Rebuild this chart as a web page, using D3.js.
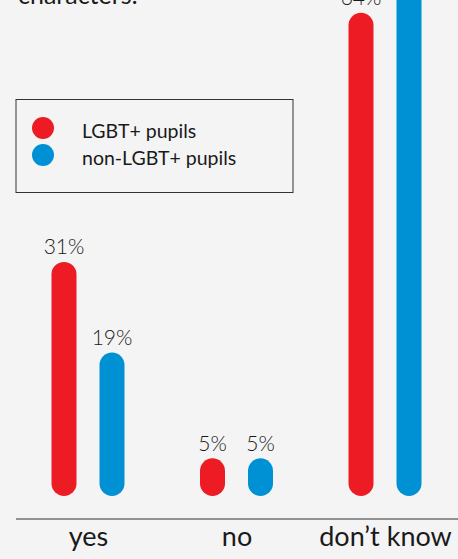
<!DOCTYPE html>
<html>
<head>
<meta charset="utf-8">
<script src="https://cdn.jsdelivr.net/npm/d3@7"></script>
<style>
  html, body { margin: 0; padding: 0; background: #f4f4f4; overflow: hidden; }
  svg { display: block; font-family: Lato, "Open Sans", sans-serif; }
</style>
</head>
<body>
<div id="chart"></div>
<script>
// ---- data ----
const categories = ["yes", "no", "don\u2019t know"];
const seriesNames = ["LGBT+ pupils", "non-LGBT+ pupils"];
const lgbtValues = [31, 5, 64];
const nonLgbtValues = [19, 5, 76];
const seriesColors = ["#ed1c24", "#0090d4"];
const titleText = "characters:";

const W = 458, H = 559;
const svg = d3.select("#chart").append("svg").attr("width", W).attr("height", H);
svg.append("rect").attr("width", W).attr("height", H).attr("fill", "#f4f4f4");

const baseY = 496;
const y = d3.scaleLinear().domain([0, 100]).range([baseY, baseY - 755]);
const x0 = d3.scalePoint().domain(categories).range([88, 385]);
const x1 = d3.scalePoint().domain(seriesNames).range([-24, 24]);
const color = d3.scaleOrdinal().domain(seriesNames).range(seriesColors);
const barW = 25;

const rows = categories.map((c, i) => ({
  cat: c,
  vals: [
    { s: seriesNames[0], v: lgbtValues[i] },
    { s: seriesNames[1], v: nonLgbtValues[i] }
  ]
}));

// title (cropped at top)
svg.append("text").attr("x", 18).attr("y", 4)
  .attr("font-size", 25).attr("fill", "#1a1a1a").text(titleText);

const g = svg.selectAll("g.cat").data(rows).enter().append("g")
  .attr("class", "cat")
  .attr("transform", d => `translate(${x0(d.cat)},0)`);

g.selectAll("rect").data(d => d.vals).enter().append("rect")
  .attr("x", d => x1(d.s) - barW / 2)
  .attr("y", d => y(d.v))
  .attr("width", barW)
  .attr("height", d => baseY - y(d.v))
  .attr("rx", barW / 2).attr("ry", barW / 2)
  .attr("fill", d => color(d.s));

g.selectAll("text.val").data(d => d.vals).enter().append("text")
  .attr("class", "val")
  .attr("x", d => x1(d.s))
  .attr("y", d => y(d.v) - 7.5)
  .attr("text-anchor", "middle")
  .attr("font-size", 21).attr("font-weight", 300)
  .attr("fill", "#1a1a1a")
  .text(d => d.v + "%");

// axis baseline
svg.append("line").attr("x1", 16).attr("x2", W).attr("y1", 519).attr("y2", 519)
  .attr("stroke", "#707070").attr("stroke-width", 1.5);

const xAxis = d3.axisBottom(x0).tickSize(0).tickPadding(0);
const ax = svg.append("g").attr("transform", "translate(0,527)").call(xAxis);
ax.select(".domain").remove();
ax.selectAll("text").attr("font-size", 27).attr("font-family", "Lato, 'Open Sans', sans-serif")
  .attr("fill", "#1a1a1a").attr("dy", "0.71em").attr("y", 0);

// legend
const lg = svg.append("g");
lg.append("rect").attr("x", 16).attr("y", 99.5).attr("width", 277).attr("height", 93)
  .attr("fill", "none").attr("stroke", "#333").attr("stroke-width", 1);
const li = lg.selectAll("g.li").data(seriesNames).enter().append("g")
  .attr("transform", (d, i) => `translate(0,${128 + i * 27})`);
li.append("circle").attr("cx", 43).attr("cy", 0).attr("r", 11).attr("fill", d => color(d));
li.append("text").attr("x", 82).attr("y", 9.5).attr("font-size", 19.5)
  .attr("fill", "#1a1a1a").text(d => d);
</script>
</body>
</html>
